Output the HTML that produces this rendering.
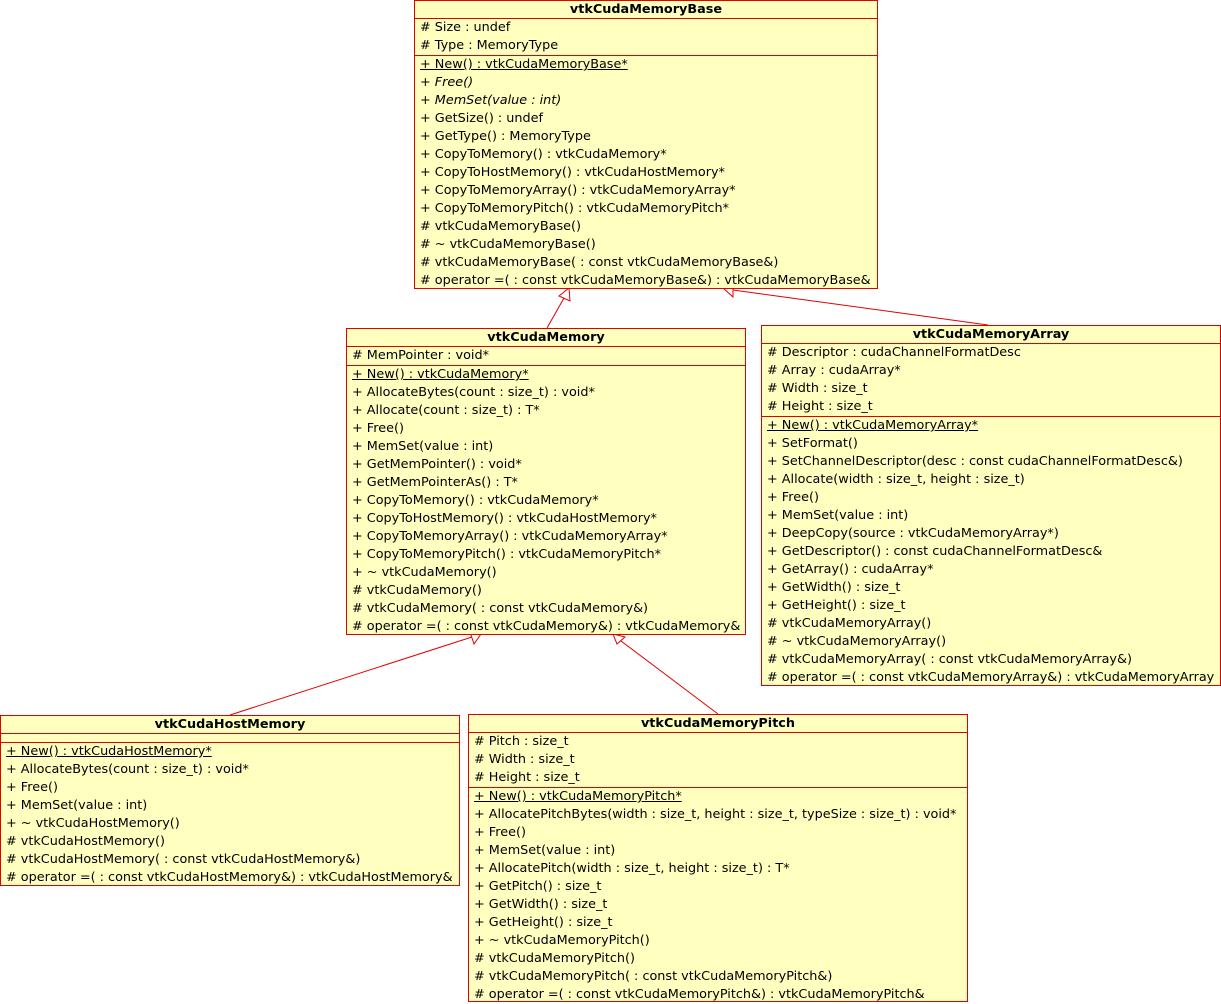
<!DOCTYPE html>
<html><head><meta charset="utf-8"><style>
body{margin:0;width:1221px;height:1002px;background:#fff;position:relative;overflow:hidden;font-family:"DejaVu Sans","Liberation Sans",sans-serif;font-size:12.8px;color:#000}
.b{position:absolute;background:#ffffc0;border:1px solid #e00000;box-sizing:border-box}
.t{height:18px;line-height:17px;text-align:center;font-weight:bold;border-bottom:1px solid #e00000;box-sizing:border-box}
.s{border-bottom:1px solid #e00000}
.s:last-child{border-bottom:none}
.r{height:18px;line-height:17px;padding-left:5px;white-space:nowrap}
.u{text-decoration:underline}
.i{font-style:italic}
svg{position:absolute;left:0;top:0}
</style></head><body>
<svg width="1221" height="1002">
<g stroke="#e00000" fill="#fff" stroke-width="1">
<line x1="547" y1="328" x2="564" y2="298"/>
<polygon points="569,288 559,296 570,301"/>
<line x1="988" y1="325" x2="733" y2="290"/>
<polygon points="723,288 733,283 733,297"/>
<line x1="230" y1="715" x2="472" y2="637"/>
<polygon points="481,634 470,632 474,644"/>
<line x1="718" y1="714" x2="621" y2="641"/>
<polygon points="613,634 617,644 625,637"/>
</g>
</svg>

<div class="b" style="left:414px;top:0;width:464px;height:289px">
<div class="t">vtkCudaMemoryBase</div>
<div class="s"><div class="r"># Size : undef</div><div class="r"># Type : MemoryType</div></div>
<div class="s">
<div class="r"><span class="u">+ New() : vtkCudaMemoryBase*</span></div>
<div class="r i">+ Free()</div>
<div class="r i">+ MemSet(value : int)</div>
<div class="r">+ GetSize() : undef</div>
<div class="r">+ GetType() : MemoryType</div>
<div class="r">+ CopyToMemory() : vtkCudaMemory*</div>
<div class="r">+ CopyToHostMemory() : vtkCudaHostMemory*</div>
<div class="r">+ CopyToMemoryArray() : vtkCudaMemoryArray*</div>
<div class="r">+ CopyToMemoryPitch() : vtkCudaMemoryPitch*</div>
<div class="r"># vtkCudaMemoryBase()</div>
<div class="r"># ~ vtkCudaMemoryBase()</div>
<div class="r"># vtkCudaMemoryBase( : const vtkCudaMemoryBase&amp;)</div>
<div class="r"># operator =( : const vtkCudaMemoryBase&amp;) : vtkCudaMemoryBase&amp;</div>
</div></div>

<div class="b" style="left:346px;top:328px;width:400px;height:307px">
<div class="t">vtkCudaMemory</div>
<div class="s"><div class="r"># MemPointer : void*</div></div>
<div class="s">
<div class="r"><span class="u">+ New() : vtkCudaMemory*</span></div>
<div class="r">+ AllocateBytes(count : size_t) : void*</div>
<div class="r">+ Allocate(count : size_t) : T*</div>
<div class="r">+ Free()</div>
<div class="r">+ MemSet(value : int)</div>
<div class="r">+ GetMemPointer() : void*</div>
<div class="r">+ GetMemPointerAs() : T*</div>
<div class="r">+ CopyToMemory() : vtkCudaMemory*</div>
<div class="r">+ CopyToHostMemory() : vtkCudaHostMemory*</div>
<div class="r">+ CopyToMemoryArray() : vtkCudaMemoryArray*</div>
<div class="r">+ CopyToMemoryPitch() : vtkCudaMemoryPitch*</div>
<div class="r">+ ~ vtkCudaMemory()</div>
<div class="r"># vtkCudaMemory()</div>
<div class="r"># vtkCudaMemory( : const vtkCudaMemory&amp;)</div>
<div class="r"># operator =( : const vtkCudaMemory&amp;) : vtkCudaMemory&amp;</div>
</div></div>

<div class="b" style="left:761px;top:325px;width:460px;height:361px">
<div class="t">vtkCudaMemoryArray</div>
<div class="s"><div class="r"># Descriptor : cudaChannelFormatDesc</div><div class="r"># Array : cudaArray*</div><div class="r"># Width : size_t</div><div class="r"># Height : size_t</div></div>
<div class="s">
<div class="r"><span class="u">+ New() : vtkCudaMemoryArray*</span></div>
<div class="r">+ SetFormat()</div>
<div class="r">+ SetChannelDescriptor(desc : const cudaChannelFormatDesc&amp;)</div>
<div class="r">+ Allocate(width : size_t, height : size_t)</div>
<div class="r">+ Free()</div>
<div class="r">+ MemSet(value : int)</div>
<div class="r">+ DeepCopy(source : vtkCudaMemoryArray*)</div>
<div class="r">+ GetDescriptor() : const cudaChannelFormatDesc&amp;</div>
<div class="r">+ GetArray() : cudaArray*</div>
<div class="r">+ GetWidth() : size_t</div>
<div class="r">+ GetHeight() : size_t</div>
<div class="r"># vtkCudaMemoryArray()</div>
<div class="r"># ~ vtkCudaMemoryArray()</div>
<div class="r"># vtkCudaMemoryArray( : const vtkCudaMemoryArray&amp;)</div>
<div class="r"># operator =( : const vtkCudaMemoryArray&amp;) : vtkCudaMemoryArray</div>
</div></div>

<div class="b" style="left:0;top:715px;width:460px;height:171px">
<div class="t">vtkCudaHostMemory</div>
<div class="s" style="height:8px"></div>
<div class="s">
<div class="r"><span class="u">+ New() : vtkCudaHostMemory*</span></div>
<div class="r">+ AllocateBytes(count : size_t) : void*</div>
<div class="r">+ Free()</div>
<div class="r">+ MemSet(value : int)</div>
<div class="r">+ ~ vtkCudaHostMemory()</div>
<div class="r"># vtkCudaHostMemory()</div>
<div class="r"># vtkCudaHostMemory( : const vtkCudaHostMemory&amp;)</div>
<div class="r"># operator =( : const vtkCudaHostMemory&amp;) : vtkCudaHostMemory&amp;</div>
</div></div>

<div class="b" style="left:468px;top:714px;width:500px;height:288px">
<div class="t">vtkCudaMemoryPitch</div>
<div class="s"><div class="r"># Pitch : size_t</div><div class="r"># Width : size_t</div><div class="r"># Height : size_t</div></div>
<div class="s">
<div class="r"><span class="u">+ New() : vtkCudaMemoryPitch*</span></div>
<div class="r">+ AllocatePitchBytes(width : size_t, height : size_t, typeSize : size_t) : void*</div>
<div class="r">+ Free()</div>
<div class="r">+ MemSet(value : int)</div>
<div class="r">+ AllocatePitch(width : size_t, height : size_t) : T*</div>
<div class="r">+ GetPitch() : size_t</div>
<div class="r">+ GetWidth() : size_t</div>
<div class="r">+ GetHeight() : size_t</div>
<div class="r">+ ~ vtkCudaMemoryPitch()</div>
<div class="r"># vtkCudaMemoryPitch()</div>
<div class="r"># vtkCudaMemoryPitch( : const vtkCudaMemoryPitch&amp;)</div>
<div class="r"># operator =( : const vtkCudaMemoryPitch&amp;) : vtkCudaMemoryPitch&amp;</div>
</div></div>
</body></html>
